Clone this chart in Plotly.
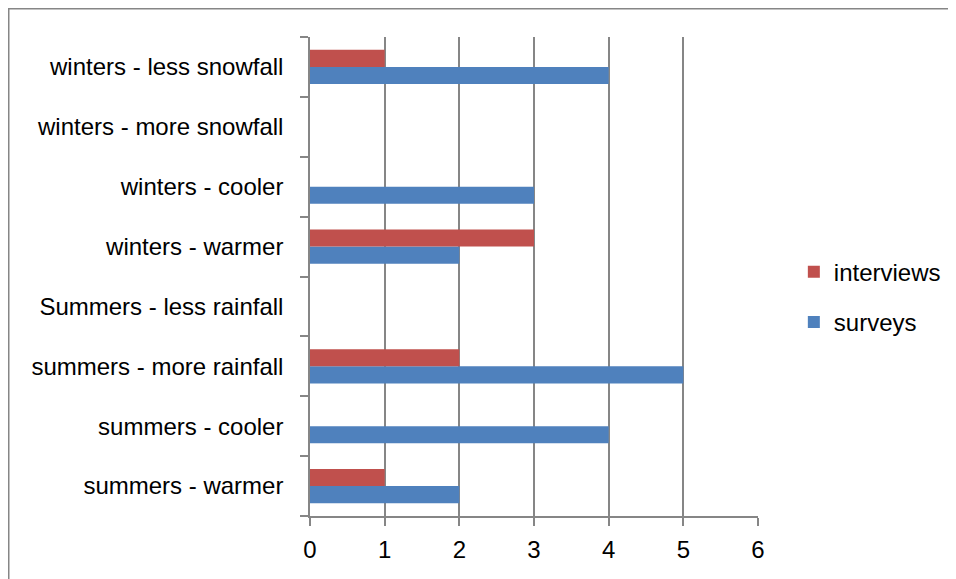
import plotly.graph_objects as go

categories = ["summers - warmer", "summers - cooler", "summers - more rainfall",
              "Summers - less rainfall", "winters - warmer", "winters - cooler",
              "winters - more snowfall", "winters - less snowfall"]
surveys = [2, 4, 5, 0, 2, 3, 0, 4]
interviews = [1, 0, 2, 0, 3, 0, 0, 1]
x_ticks = [0, 1, 2, 3, 4, 5, 6]

GRAY = "#868686"
FONT = "Liberation Sans"

L, R, T, B = 302, 198, 29, 63
PW, PH = 448, 479

fig = go.Figure()
fig.add_trace(go.Bar(y=categories, x=surveys, orientation="h", name="surveys",
                     legendgroup="s", legendrank=2,
                     marker=dict(color="#4F81BD", line=dict(width=0))))
fig.add_trace(go.Bar(y=categories, x=interviews, orientation="h", name="interviews",
                     legendgroup="i", legendrank=1,
                     marker=dict(color="#C0504D", line=dict(width=0))))

fig.update_layout(
    width=L + PW + R, height=T + PH + B,
    margin=dict(l=L, r=R, t=T, b=B, autoexpand=False),
    paper_bgcolor="white", plot_bgcolor="white",
    barmode="group", bargap=0.43, bargroupgap=0,
    font=dict(family=FONT, size=24, color="black"),
    showlegend=True,
    legend=dict(x=1.08, y=0.457, xanchor="left", yanchor="middle",
                traceorder="grouped", font=dict(size=24),
                itemwidth=30, tracegroupgap=16, bgcolor="rgba(0,0,0,0)"),
    xaxis=dict(range=[0, 6], tickvals=x_ticks, showgrid=True, gridcolor=GRAY, gridwidth=1.5,
               showline=True, linecolor=GRAY, linewidth=1.5, ticks="outside",
               ticklen=8, tickcolor=GRAY, tickwidth=1.5, zeroline=False,
               ticklabelstandoff=3, fixedrange=True),
    yaxis=dict(categoryorder="array", categoryarray=categories, showgrid=False,
               showline=True, linecolor=GRAY, linewidth=1.5, ticks="outside",
               tickson="boundaries", ticklen=8, tickcolor=GRAY, tickwidth=1.5,
               ticklabelstandoff=20, fixedrange=True),
)

fig.add_shape(type="rect", xref="paper", yref="paper",
              x0=(-L + 0.75) / PW, x1=2.0, y0=-0.5, y1=(PH + T - 0.75) / PH,
              line=dict(color=GRAY, width=1.5), fillcolor="rgba(0,0,0,0)", layer="below")

fig.write_html("out.html")
